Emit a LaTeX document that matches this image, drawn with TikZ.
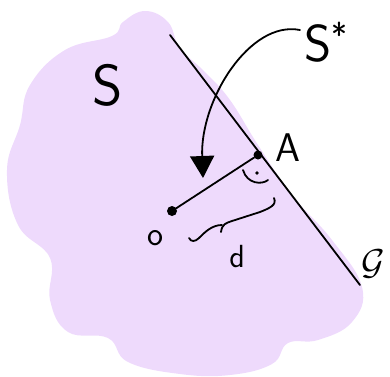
\documentclass[tikz,border=0pt]{standalone}
\usepackage{fontspec}
\usepackage{amsmath,amssymb}
\usetikzlibrary{arrows.meta}
\definecolor{lilac}{RGB}{238,218,252}

\begin{document}
\begin{tikzpicture}[x=1pt,y=-1pt,
        pen/.style={line width=1.8pt,line cap=round},
        dotmark/.style={circle,fill=black,inner sep=0pt,minimum size=9pt},
        hand/.style={font=\sffamily\fontsize{#1}{#1}\selectfont,inner sep=0pt}]
        \useasboundingbox (0,0) rectangle (390,376);
        % the set S
        \fill[lilac] plot[smooth cycle,tension=0.7] coordinates {
            (123,22) (145,11) (168,22) (180,48) (205,72) (230,100) (258,145)
            (292,195) (332,240) (362,287) (352,322) (318,340) (288,343)
            (272,364) (230,375) (180,374) (128,362) (108,338) (68,332)
            (50,300) (50,258) (18,225) (7,170) (20,125) (30,85) (65,50) (112,36)};
        \node[hand=58] (S) at (108,85) {S};
        \node[hand=52,anchor=west] (Sstar) at (304,42) {S\raisebox{14pt}{\fontsize{34}{34}\selectfont *}};
        % the line and its points
        \coordinate (G1) at (170,35);
        \coordinate (G2) at (360,285);
        \draw[pen] (G1) -- (G2);
        \node[scale=3.6,inner sep=0pt,anchor=west] (Glabel) at (361,264) {$\mathcal{G}$};
        \node[dotmark] (A) at (258,155) {};
        \node[hand=40,anchor=west] (Alabel) at (275,148) {A};
        \node[dotmark,minimum size=10pt] (P) at (172,211) {};
        \node[hand=34] (O) at (155,238) {o};
        \draw[pen] (P) -- (A);
        % right angle
        \draw[pen] (243,170) .. controls (247,184) and (262,185) .. (268,180);
        \fill (257,173) circle (1.8pt);
        % distance d
        \draw[pen] (274,198) .. controls (277,205) and (270,208) .. (260,212)
            -- (232,221) .. controls (226,223) and (222,224) .. (221,232);
        \draw[pen] (222,225) .. controls (212,225) and (205,232) .. (199,238)
            .. controls (195,242) and (191,242) .. (189,238);
        \node[hand=32] (d) at (237,257) {d};
        % arrow from S*
        \coordinate (tip) at (203,178);
        \draw[pen,-{Triangle[length=22pt,width=24pt]}] (Sstar.west) ++(-4,-12)
            .. controls (250,20) and (200,100) .. (tip);
    \end{tikzpicture}
\end{document}
